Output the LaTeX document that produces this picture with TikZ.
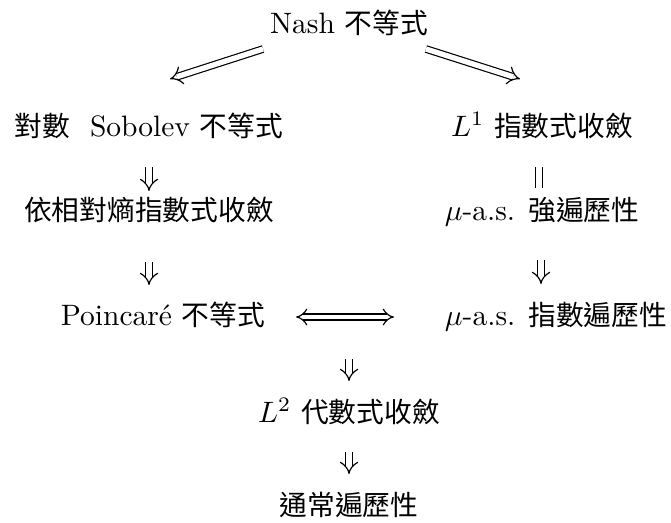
\documentclass[tikz,border=0pt]{standalone}
\usepackage{fontspec}
\newfontfamily\cjk[Scale=0.94]{Noto Sans CJK TC}
\usetikzlibrary{arrows.meta,calc}
\begin{document}
\begin{tikzpicture}[x=0.339pt,y=-0.339pt,
  lbl/.style={inner sep=0pt,outer sep=0pt,anchor=base,font=\fontsize{10pt}{12pt}\selectfont},
  imp/.style={double,double distance=1.8pt,line width=0.4pt,-{Implies}},
  eqv/.style={double,double distance=1.6pt,line width=0.4pt,{Implies}-{Implies}},
  par/.style={double,double distance=2.2pt,line width=0.4pt}]
\useasboundingbox (0,0) rectangle (671,522);
\node[lbl] (nash)  at (349,33)  {Nash {\cjk 不等式}};
\node[lbl] (sob)   at (149,136) {{\cjk 對數}\ \ Sobolev {\cjk 不等式}};
\node[lbl] (l1)    at (542,136) {$L^1$ {\cjk 指數式收斂}};
\node[lbl] (ent)   at (149,220) {{\cjk 依相對熵指數式收斂}};
\node[lbl] (strong) at (542,220) {$\mu$-a.s. {\cjk 強遍歷性}};
\node[lbl] (poinc) at (163,325) {Poincar\'e {\cjk 不等式}};
\node[lbl] (expo)  at (556,325) {$\mu$-a.s. {\cjk 指數遍歷性}};
\node[lbl] (l2)    at (349,422) {$L^2$ {\cjk 代數式收斂}};
\node[lbl] (usual) at (349,515) {{\cjk 通常遍歷性}};
% diagonal arrows
\draw[imp] ($(nash.base west)+(-7,16)$) -- ($(sob.base)+(21,-57)$);
\draw[imp] ($(nash.base east)+(-2,16)$) -- ($(l1.base)+(-22,-57)$);
% left column
\draw[imp] ($(sob.base)+(0,31)$) -- ($(ent.base)+(0,-29)$);
\draw[imp] ($(ent.base)+(0,42)$) -- ($(ent.base |- poinc.base)+(0,-40)$);
% right column
\draw[par] ($(l1.base)+(-3,31)$) -- ($(strong.base)+(-3,-32)$);
\draw[imp] ($(strong.base)+(-1,40)$) -- ($(strong.base |- expo.base)+(-1,-41)$);
% equivalence
\draw[eqv] ($(poinc.base east)+(31,-8)$) -- ($(expo.base west)+(-51,-8)$);
% bottom
\draw[imp] ($(poinc.base -| l2.base)+(0,34)$) -- ($(l2.base)+(0,-41)$);
\draw[imp] ($(l2.base)+(0,30)$) -- ($(usual.base)+(0,-41)$);
\end{tikzpicture}
\end{document}
